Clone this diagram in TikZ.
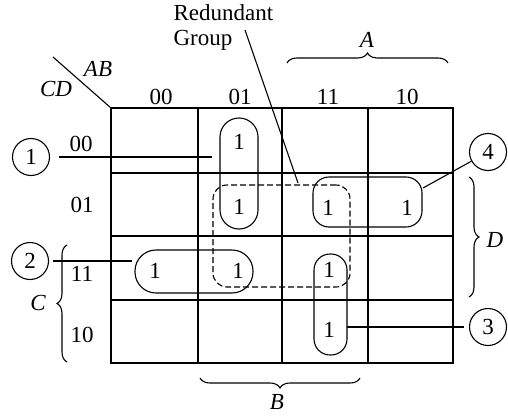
\documentclass[tikz,border=0pt]{standalone}
\usepackage{fontspec}
\setmainfont{Liberation Serif}
\usetikzlibrary{decorations.pathreplacing}

\begin{document}
\begin{tikzpicture}[x=1pt, y=-1pt, line width=1.1pt, font=\fontsize{23}{25}\selectfont,
txt/.style={inner sep=0pt},
var/.style={inner sep=0pt, font=\fontsize{23}{25}\selectfont\itshape},
grp/.style={draw, inner sep=0pt},
redund/.style={draw, dash pattern=on 6pt off 3pt, inner sep=0pt},
tag/.style={draw, circle, minimum size=37pt, inner sep=0pt},
brc/.style={decorate, decoration={brace, amplitude=10pt}}]

\useasboundingbox (0,0) rectangle (508,415);

\draw (111,108) rectangle (453,363);
\foreach \x in {198,282,368} \draw (\x,108) -- (\x,363);
\foreach \y in {173,236,300} \draw (111,\y) -- (453,\y);
\draw (53,57) -- (111,108);

\node[var] (ab) at (98,69) {AB};
\node[var] (cd) at (56,89) {CD};
\node[txt] (col0) at (161,97) {00};
\node[txt] (col1) at (240,97) {01};
\node[txt] (col2) at (328,97) {11};
\node[txt] (col3) at (407,97) {10};
\node[txt] (row0) at (81,144) {00};
\node[txt] (row1) at (82,205) {01};
\node[txt] (row2) at (82,274) {11};
\node[txt] (row3) at (82,335) {10};

\node[txt] (m5) at (239,142) {1};
\node[txt] (m7) at (239,207) {1};
\node[txt] (m15) at (328,208) {1};
\node[txt] (m13) at (407,208) {1};
\node[txt] (m4) at (155,271) {1};
\node[txt] (m6) at (238,271) {1};
\node[txt] (m14) at (329,270) {1};
\node[txt] (m10) at (329,330) {1};

\node[grp, minimum width=38pt, minimum height=111pt, rounded corners=19pt] (g1) at (239,173.5) {};
\node[grp, minimum width=118pt, minimum height=43pt, rounded corners=21pt] (g2) at (194,271.5) {};
\node[grp, minimum width=33pt, minimum height=101pt, rounded corners=16pt] (g3) at (330.5,304.5) {};
\node[grp, minimum width=109pt, minimum height=50pt, rounded corners=16pt] (g4) at (367.5,202) {};
\node[redund, minimum width=137pt, minimum height=102pt, rounded corners=14pt] (rg) at (281.5,236) {};

\node[tag] (c1) at (31,157) {1};
\node[tag] (c2) at (30,261) {2};
\node[tag] (c3) at (488,327) {3};
\node[tag] (c4) at (488,152) {4};
\coordinate (e1) at (212,157);
\coordinate (e2) at (132,261);
\coordinate (e3) at (347,327);
\coordinate (e4) at (423,188);
\draw[shorten <=9pt] (c1) -- (e1);
\draw[shorten <=4pt] (c2) -- (e2);
\draw[shorten >=5pt] (e3) -- (c3);
\draw (c4) -- (e4);

\node[txt, align=left, anchor=north west] (note) at (173,4) {Redundant\\Group};
\coordinate (n1) at (245,30);
\coordinate (n2) at (298,183);
\draw (n1) -- (n2);

\draw[brc] (287,63) -- (448,63);
\node[var] (la) at (367,40) {A};
\draw[brc] (469,177) -- (469,297);
\node[var] (ld) at (495,240) {D};
\draw[brc] (360,378) -- (200,378);
\node[var] (lb) at (277,402) {B};
\draw[brc] (67,362) -- (67,245);
\node[var] (lc) at (38,303) {C};
\end{tikzpicture}
\end{document}
